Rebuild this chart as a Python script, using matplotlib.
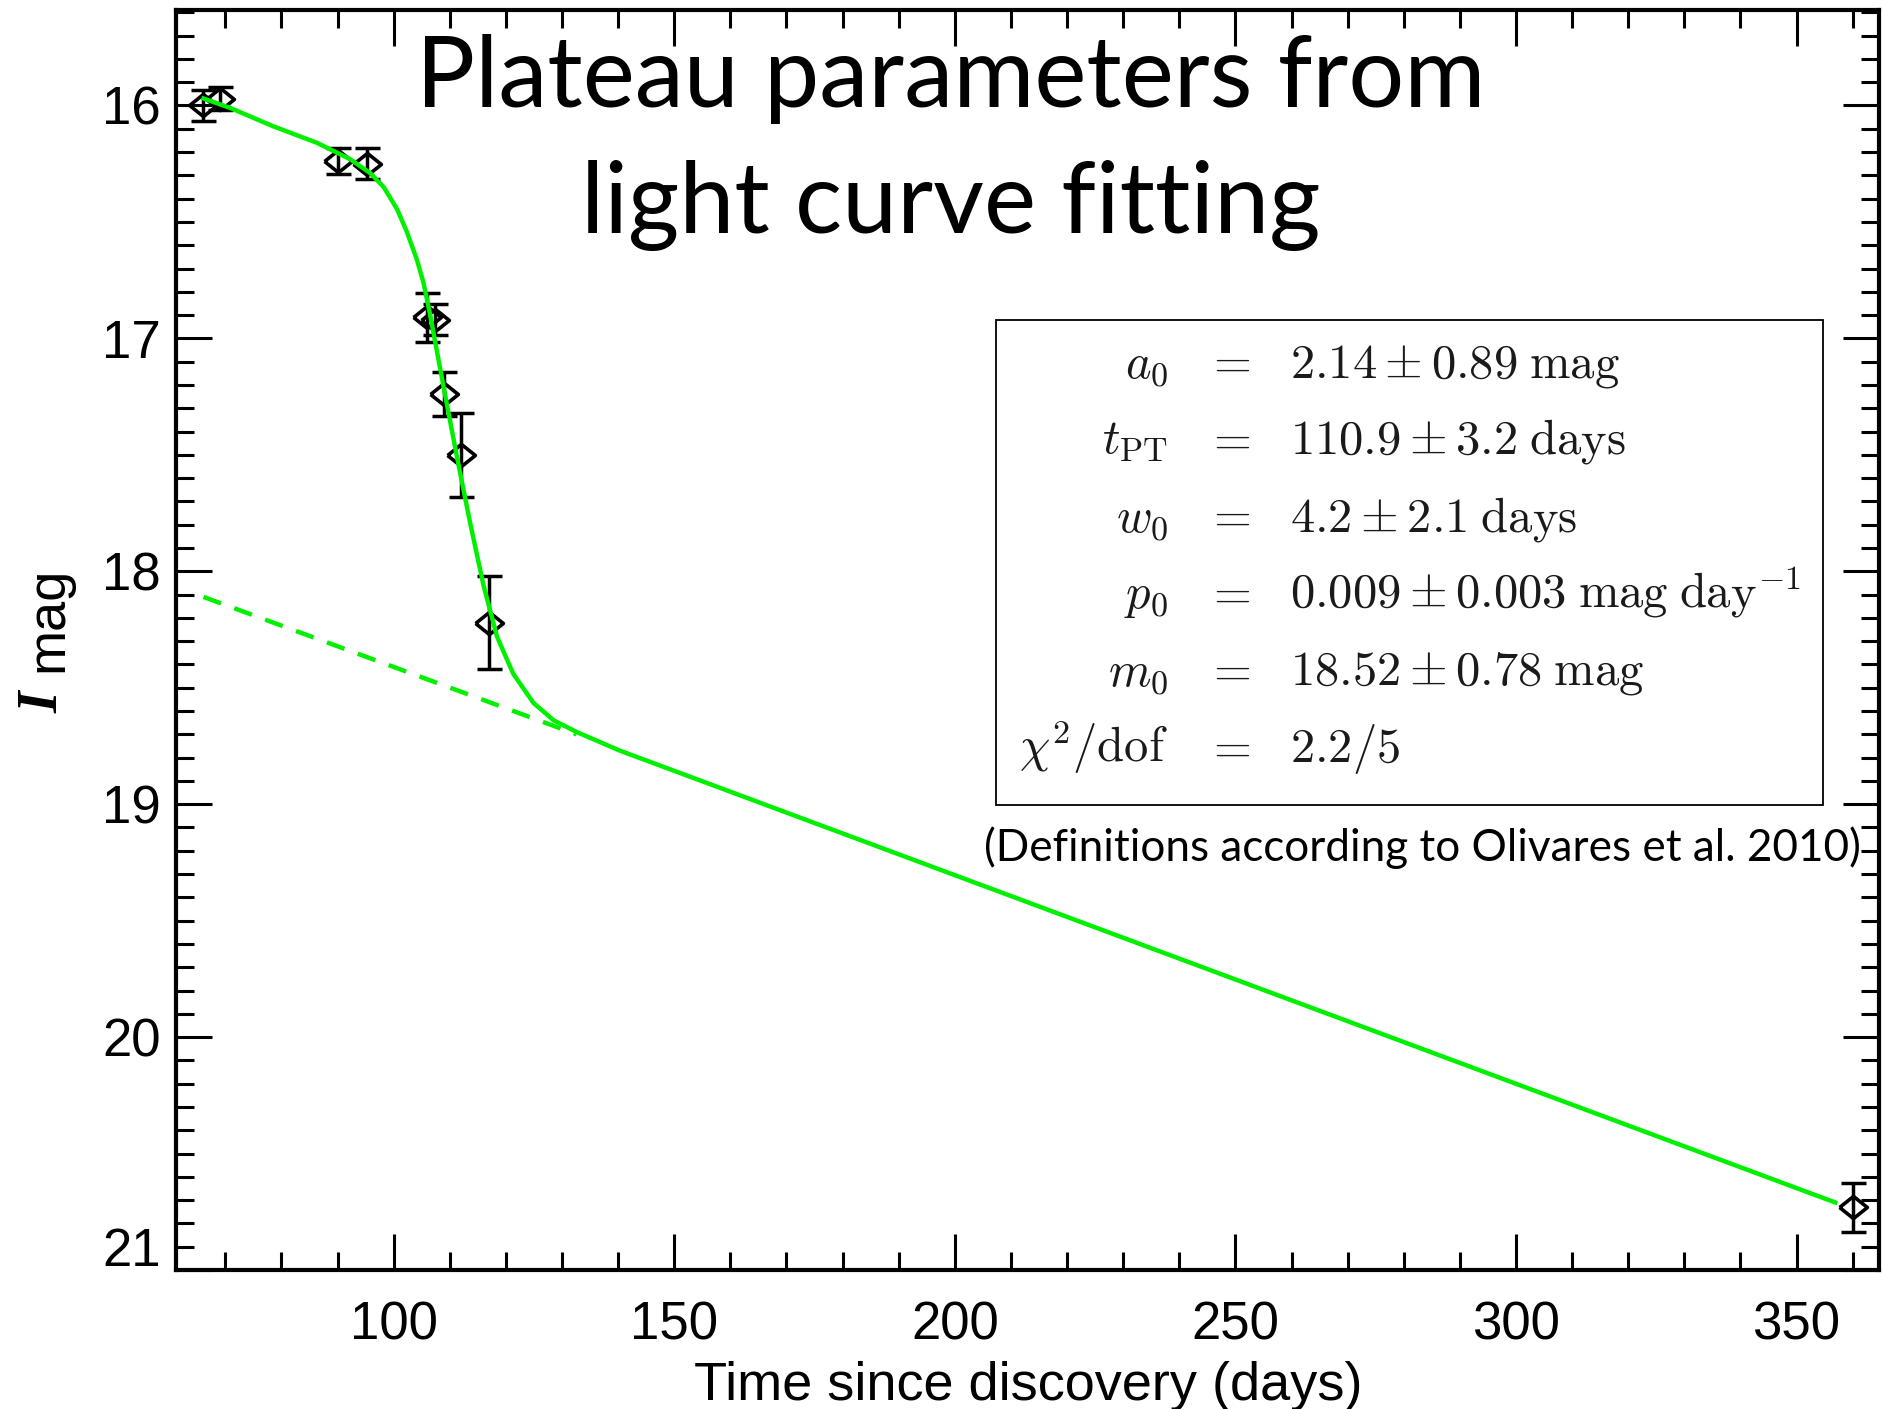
import numpy as np
import matplotlib
matplotlib.use("Agg")
import matplotlib.pyplot as plt
from matplotlib.patches import Rectangle
from matplotlib.ticker import MultipleLocator

# /=========================================================================
# data

# observed I-band points: days since discovery, magnitude, 1-sigma error
obs_t = [66.0, 69.1, 90.1, 95.2, 106.0, 107.4, 109.0, 112.0, 117.0, 360.0]
obs_mag = [16.00, 15.97, 16.24, 16.25, 16.91, 16.92, 17.24, 17.50, 18.22, 20.73]
obs_err = [0.065, 0.05, 0.056, 0.066, 0.107, 0.067, 0.095, 0.18, 0.20, 0.105]

# fitted light curve (solid green)
fit_t = [66.1, 70.8, 78.6, 86.3, 92.2, 95.8, 98.2, 100.6, 102.3, 104.1,
         105.3, 106.5, 108.9, 111.2, 113.6, 116.0, 118.4, 121.3, 124.9,
         128.5, 132.6, 140.3, 356.9]
fit_mag = [15.97, 16.01, 16.09, 16.16, 16.23, 16.29, 16.35, 16.445, 16.54,
           16.66, 16.76, 16.90, 17.21, 17.50, 17.79, 18.06, 18.28, 18.44,
           18.565, 18.64, 18.69, 18.77, 20.71]

# linear radioactive tail extrapolated back (dashed green)
tail_t = [66.1, 132.6]
tail_mag = [18.11, 18.70]

par_names = [r"$a_0$", r"$t_{\rm PT}$", r"$w_0$", r"$p_0$", r"$m_0$",
             r"$\chi^2/{\rm dof}$"]
par_values = [r"$2.14 \pm 0.89\;{\rm mag}$",
              r"$110.9 \pm 3.2\;{\rm days}$",
              r"$4.2 \pm 2.1\;{\rm days}$",
              r"$0.009 \pm 0.003\;{\rm mag\;day}^{-1}$",
              r"$18.52 \pm 0.78\;{\rm mag}$",
              r"$2.2/5$"]

x_major = [100, 150, 200, 250, 300, 350]
y_major = [16, 17, 18, 19, 20]

# =========================================================================/

W, H = 1882, 1409
GREEN = "#00f000"

plt.rcParams["font.family"] = ["Liberation Sans", "DejaVu Sans"]
plt.rcParams["mathtext.fontset"] = "cm"

fig = plt.figure(figsize=(W / 100, H / 100), dpi=100)
ax = fig.add_axes([176 / W, 1 - 1270 / H, (1879 - 176) / W, 1260 / H])

# fit and tail
ax.plot(fit_t, fit_mag, color=GREEN, lw=3.2, zorder=4)
ax.plot(tail_t, tail_mag, color=GREEN, lw=3.2, dashes=(4.2, 3.2), zorder=4)

# data with error bars, open diamonds
diamond = [(-1, 0), (0, 0.8), (1, 0), (0, -0.8), (-1, 0)]
ax.errorbar(obs_t, obs_mag, yerr=obs_err, fmt="none", ecolor="black",
            elinewidth=2.5, capsize=9, capthick=2.5, zorder=3)
ax.plot(obs_t, obs_mag, ls="none", marker=diamond, ms=20, mfc="none",
        mec="black", mew=2.6, zorder=3)

ax.set_xlim(61.2, 364.7)
ax.set_ylim(21.0, 15.59)

ax.set_xticks(x_major)
ax.set_yticks(y_major + [21])
ax.set_yticklabels([str(v) for v in y_major] + [""])
ax.xaxis.set_minor_locator(MultipleLocator(10))
ax.yaxis.set_minor_locator(MultipleLocator(0.1))
ax.tick_params(which="both", direction="in", top=True, right=True,
               width=2.2, labelsize=38)
ax.tick_params(which="major", length=26)
ax.tick_params(which="minor", length=13)
ax.tick_params(axis="x", pad=22)
ax.tick_params(axis="y", pad=11)
for sp in ax.spines.values():
    sp.set_linewidth(3.0)

# the bottom "21" label sits a bit above its tick in the original
ax.annotate("21", xy=(0, 21), xycoords=ax.get_yaxis_transform(),
            xytext=(-11, 13), textcoords="offset points",
            ha="right", va="center", fontsize=38)

# axis titles
fig.text(1028 / W, 1 - 1386 / H, "Time since discovery (days)",
         ha="center", va="center", fontsize=39)
fig.text(58 / W, 1 - 713 / H, "I", family="Liberation Serif",
         weight="bold", style="italic", fontsize=40, rotation=90,
         rotation_mode="anchor", ha="left", va="baseline")
fig.text(62 / W, 1 - 672 / H, "mag", fontsize=39, rotation=90,
         rotation_mode="anchor", ha="left", va="baseline")

# slide title
fig.text(951 / W, 1 - 107 / H, "Plateau parameters from", family="Lato",
         fontsize=71, ha="center", va="baseline")
fig.text(951 / W, 1 - 233 / H, "light curve fitting", family="Lato",
         fontsize=71, ha="center", va="baseline")

# parameter box
fig.add_artist(Rectangle((996 / W, 1 - 805 / H), 827 / W, 485 / H,
                         transform=fig.transFigure, fill=False,
                         lw=1.3, ec="black"))
for i, (name, val) in enumerate(zip(par_names, par_values)):
    yb = 1 - (377 + 77 * i) / H
    fig.text(1168 / W, yb, name, ha="right", va="baseline", fontsize=35,
             color="#1a1a1a")
    fig.text(1228 / W, yb, r"$=$", ha="center", va="baseline", fontsize=35,
             color="#1a1a1a")
    fig.text(1290 / W, yb, val, ha="left", va="baseline", fontsize=35,
             color="#1a1a1a")

fig.text(1422 / W, 1 - 861 / H, "(Definitions according to Olivares et al. 2010)",
         family="Lato", fontsize=31.7, ha="center", va="baseline")

fig.savefig("out.png", dpi=100)
